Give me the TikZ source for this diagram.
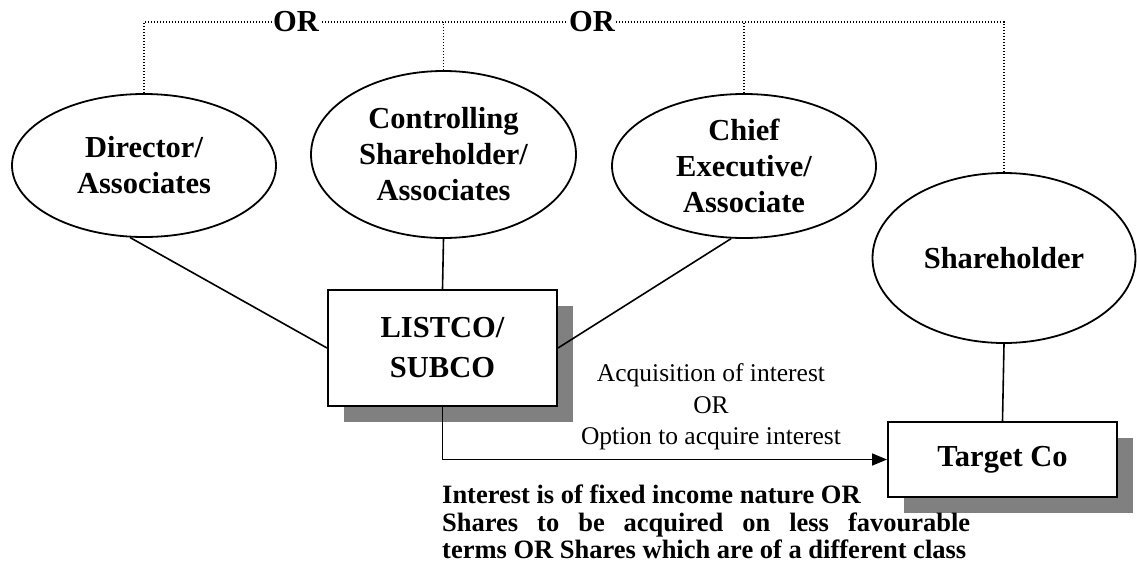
\documentclass[tikz,border=0pt]{standalone}
\usepackage{fontspec}
\setmainfont{Liberation Serif}
\usetikzlibrary{shapes.geometric,arrows.meta,shadows}
\begin{document}
\begin{tikzpicture}[x=1pt,y=-1pt,
  party/.style={ellipse,draw,line width=1.8pt,inner sep=0pt,align=center,
    font=\fontsize{30.5}{36}\selectfont\bfseries},
  cobox/.style={rectangle,draw,line width=2pt,fill=white,inner sep=0pt,align=center,
    font=\fontsize{30.5}{40}\selectfont\bfseries,
    general shadow={fill=black!50,shadow xshift=16pt,shadow yshift=-16pt}},
  link/.style={line width=1.6pt},
  orlink/.style={line width=1.2pt,dash pattern=on 1.2pt off 1.8pt},
  orlabel/.style={fill=white,inner xsep=1pt,inner ysep=0pt,
    font=\fontsize{30.5}{36}\selectfont\bfseries},
]
\useasboundingbox (0,0) rectangle (1137,571);

% parties
\node[party,minimum width=264pt,minimum height=143pt] (dir) at (144,165.5) {Director/\\Associates};
\node[party,minimum width=265pt,minimum height=167pt] (ctrl) at (443.5,154.5) {Controlling\\Shareholder/\\Associates};
\node[party,minimum width=264pt,minimum height=144pt] (ceo) at (744,166) {Chief\\Executive/\\Associate};
\node[party,minimum width=263pt,minimum height=170pt] (shr) at (1004,258) {Shareholder};

% companies
\node[cobox,minimum width=229pt,minimum height=116pt] (list) at (442.5,348) {LISTCO/\\SUBCO};
\node[cobox,minimum width=229pt,minimum height=75pt] (tgt) at (1002.5,459.5) {Target Co};

% dotted "OR" bracket across the top
\coordinate (ortop) at (0,22);
\draw[orlink] (dir.north) -- (dir.north |- ortop) -- (shr.north |- ortop) -- (shr.north);
\draw[orlink] (ctrl.north) -- (ctrl.north |- ortop);
\draw[orlink] (ceo.north) -- (ceo.north |- ortop);
\node[orlabel] (or1) at (296,22) {OR};
\node[orlabel] (or2) at (592,22) {OR};

% connections
\draw[link] (dir.259) -- (list.west);
\draw[link] (ctrl.south) -- (list.north);
\draw[link] (ceo.260) -- (list.east);
\draw[link] (shr.south) -- (tgt.north);
\draw[link,-{Triangle[length=15pt,width=12pt]}] (list.south) |- (tgt.west);

% labels
\node[font=\fontsize{25.5}{31.5}\selectfont,align=center,inner sep=0pt] (acq) at (711,407)
  {Acquisition of interest\\OR\\Option to acquire interest};
\node[anchor=north west,text width=528pt,align=justify,inner sep=0pt,
  font=\fontsize{26.5}{27.5}\selectfont\bfseries] (cond) at (442,485)
  {Interest is of fixed income nature OR\\Shares to be acquired on less favourable\linebreak terms OR Shares which are of a different class};
\end{tikzpicture}
\end{document}
